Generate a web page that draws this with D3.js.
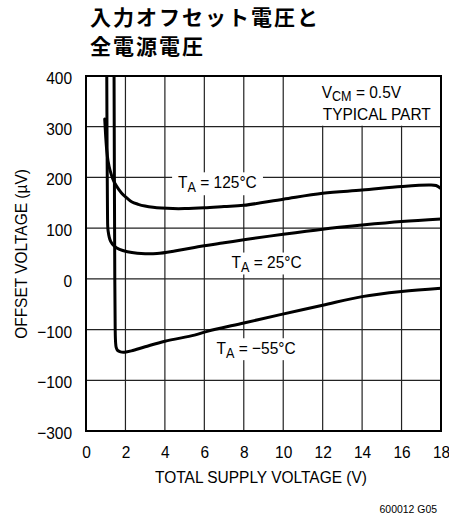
<!DOCTYPE html>
<html>
<head>
<meta charset="utf-8">
<script src="https://cdn.jsdelivr.net/npm/d3@7"></script>
<style>
  html, body { margin: 0; padding: 0; background: #fff; }
  svg { display: block; }
  text { font-family: "Liberation Sans", Arial, sans-serif; fill: #000; }
  .title { font-family: "Noto Sans CJK JP", sans-serif; font-weight: bold; }
</style>
</head>
<body>
<script>
// Chart text
const titleLines = ["入力オフセット電圧と", "全電源電圧"];
const xLabel = "TOTAL SUPPLY VOLTAGE (V)";
const yLabel = "OFFSET VOLTAGE (µV)";
const partCode = "600012 G05";
const conditionLines = ["= 0.5V", "TYPICAL PART"];

// Axis ticks (labels exactly as printed on the sheet)
const xTickValues = [0, 2, 4, 6, 8, 10, 12, 14, 16, 18];
const yTickValues = [400, 300, 200, 100, 0, -100, -200, -300];
const yTickLabels = ["400", "300", "200", "100", "0", "−100", "−100", "−300"];

// Offset voltage (µV) vs total supply voltage (V), one pair of arrays per temperature
const supply125 = [0.95, 1.0, 1.05, 1.12, 1.22, 1.35, 1.47, 1.65, 1.81, 2.05, 2.31, 2.65, 2.99, 3.4, 3.83, 4.4, 5.0, 6.0, 7.0, 8.0, 10.0, 12.0, 14.0, 16.0, 17.4, 17.75, 18.0];
const offset125 = [315, 280, 254, 232, 214, 198, 188, 177, 169, 160, 152, 147, 143.6, 141, 139.5, 138.5, 138.5, 140, 142.5, 145, 157, 168.7, 175, 182, 185, 184, 178];

const supply25 = [1.05, 1.07, 1.09, 1.12, 1.25, 1.45, 1.7, 2.1, 2.6, 3.0, 3.6, 4.5, 5.5, 7.0, 8.0, 10.0, 12.0, 14.0, 16.0, 18.0];
const offset25 = [430, 250, 130, 95, 74, 64, 58, 53.5, 50.5, 49.5, 50, 55, 62, 71, 77, 88, 98, 106, 113, 118];

const supplyM55 = [1.42, 1.44, 1.46, 1.48, 1.5, 1.53, 1.6, 1.75, 1.95, 2.3, 3.0, 4.0, 5.5, 6.1, 8.0, 9.8, 12.0, 14.0, 16.0, 18.0];
const offsetM55 = [430, 200, 0, -100, -125, -135, -141, -144, -144.5, -142, -134, -123, -111, -104, -87, -71, -52, -35, -25, -18.5];

const temps = ["125°C", "25°C", "−55°C"];

const W = 449, H = 517;
const SX = 0.9; // horizontal condensing of the sans labels

const svg = d3.select("body").append("svg")
  .attr("width", W).attr("height", H);

const x = d3.scaleLinear().domain([0, 18]).range([86, 441]);
const y = d3.scaleLinear().domain([-300, 400]).range([431, 76]);

// Title
svg.append("text").attr("class", "title")
  .attr("x", 90).attr("y", 25)
  .style("font-size", "21px").style("letter-spacing", "2px")
  .text(titleLines[0]);
svg.append("text").attr("class", "title")
  .attr("x", 90).attr("y", 54)
  .style("font-size", "21px").style("letter-spacing", "2px")
  .text(titleLines[1]);

// Grid
const grid = svg.append("g").attr("stroke", "#222").attr("stroke-width", 1.2);
grid.selectAll("line.v").data(xTickValues.slice(1, -1)).join("line")
  .attr("x1", d => x(d)).attr("x2", d => x(d))
  .attr("y1", y(400)).attr("y2", y(-300));
grid.selectAll("line.h").data(yTickValues.slice(1, -1)).join("line")
  .attr("x1", x(0)).attr("x2", x(18))
  .attr("y1", d => y(d)).attr("y2", d => y(d));

// Axes (ticks hidden, labels only)
const fs = 17.2;
const yAxis = svg.append("g")
  .attr("transform", `translate(${x(0)},0)`)
  .call(d3.axisLeft(y).tickValues(yTickValues)
    .tickFormat((d, i) => yTickLabels[i]).tickSize(0).tickPadding(0));
yAxis.select(".domain").remove();
yAxis.selectAll("text")
  .attr("x", null).attr("dy", null)
  .attr("transform", `translate(-14,7.5) scale(${SX},1)`)
  .attr("text-anchor", "end")
  .style("font-size", fs + "px").style("font-family", null).attr("font-family", null).attr("font-size", null);

const xAxis = svg.append("g")
  .attr("transform", `translate(0,${y(-300)})`)
  .call(d3.axisBottom(x).tickValues(xTickValues).tickFormat(d3.format("d")).tickSize(0).tickPadding(0));
xAxis.select(".domain").remove();
xAxis.selectAll("text")
  .attr("y", null).attr("dy", null)
  .attr("transform", `translate(0,26.5) scale(${SX},1)`)
  .attr("text-anchor", "middle")
  .style("font-size", fs + "px").attr("font-family", null).attr("font-size", null);

// Axis titles
svg.append("text")
  .attr("transform", `translate(261,482.5) scale(${SX},1)`)
  .attr("text-anchor", "middle").style("font-size", fs + "px")
  .text(xLabel);
svg.append("text")
  .attr("transform", `translate(27,254) rotate(-90) scale(${SX},1)`)
  .attr("text-anchor", "middle").style("font-size", fs + "px")
  .text(yLabel);

// Figure code
svg.append("text")
  .attr("transform", `translate(437,513) scale(0.95,1)`)
  .attr("text-anchor", "end").style("font-size", "11px")
  .text(partCode);

// Labels with a white backing that interrupts the grid
function label(px, py, build, padX, padT, padB) {
  const g = svg.append("g").attr("transform", `translate(${px},${py})`);
  const rect = g.append("rect").attr("fill", "#fff");
  const t = g.append("text").attr("transform", `scale(${SX},1)`).style("font-size", fs + "px");
  build(t);
  const bb = t.node().getBBox();
  rect.attr("x", bb.x * SX - padX).attr("y", bb.y - padT)
    .attr("width", bb.width * SX + 2 * padX).attr("height", bb.height + padT + padB);
  return g;
}
function tempText(t, temp) {
  t.append("tspan").text("T");
  t.append("tspan").attr("dy", 4).style("font-size", "14px").text("A");
  t.append("tspan").attr("dy", -4).text(" = " + temp);
}

label(x(4.67), y(179), t => tempText(t, temps[0]), 6, 0, 0);
label(x(7.38), y(20.8), t => tempText(t, temps[1]), 6, 0, -1);
label(x(6.62), y(-148.2), t => tempText(t, temps[2]), 6, 0, -1);

// Test conditions box, top right
{
  const g = svg.append("g").attr("transform", `translate(${x(11.95)},${y(356)})`);
  const rect = g.append("rect").attr("fill", "#fff");
  const t1 = g.append("text").attr("transform", `scale(${SX},1)`).style("font-size", fs + "px");
  t1.append("tspan").text("V");
  t1.append("tspan").attr("dy", 3).style("font-size", "14px").text("CM");
  t1.append("tspan").attr("dy", -3).text(" " + conditionLines[0]);
  g.append("text").attr("transform", `translate(1,21.7) scale(${SX},1)`)
    .style("font-size", fs + "px").text(conditionLines[1]);
  rect.attr("x", -8).attr("y", y(400) - y(356) + 1)
    .attr("width", x(18) - x(11.95) + 8).attr("height", y(300) - y(400) - 2);
}

// Curves
svg.append("clipPath").attr("id", "plot-clip").append("rect")
  .attr("x", x(0)).attr("y", y(400)).attr("width", x(18) - x(0)).attr("height", y(-300) - y(400));

const line = d3.line().x(d => x(d[0])).y(d => y(d[1])).curve(d3.curveCatmullRom.alpha(0.5));
const series = [
  d3.zip(supply125, offset125),
  d3.zip(supply25, offset25),
  d3.zip(supplyM55, offsetM55)
];
svg.append("g").attr("clip-path", "url(#plot-clip)")
  .selectAll("path").data(series).join("path")
  .attr("d", line)
  .attr("fill", "none").attr("stroke", "#000")
  .attr("stroke-width", 3).attr("stroke-linejoin", "round").attr("stroke-linecap", "round");

// Plot frame
svg.append("rect")
  .attr("x", x(0)).attr("y", y(400)).attr("width", x(18) - x(0)).attr("height", y(-300) - y(400))
  .attr("fill", "none").attr("stroke", "#000").attr("stroke-width", 2);
</script>
</body>
</html>
